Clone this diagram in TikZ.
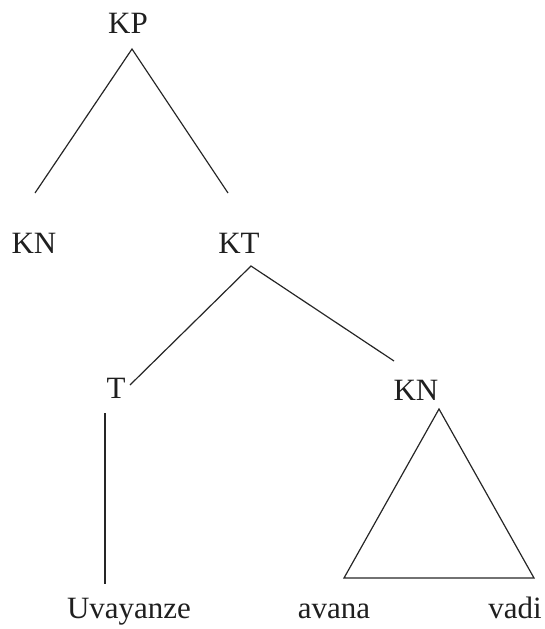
\documentclass[tikz,border=0pt]{standalone}
\usepackage{fontspec}
\setmainfont{Liberation Serif}
\begin{document}
\begin{tikzpicture}[x=1pt,y=-1pt,
  lbl/.style={inner sep=0pt,anchor=base,font=\fontsize{31}{37}\selectfont,text=black!88},
  edge/.style={line width=1.2pt,draw=black!85}]
\useasboundingbox (0,0) rectangle (545,629);
% labels
\node[lbl] (KP) at (128,33) {KP};
\node[lbl] (KNa) at (34,253) {KN};
\node[lbl] (KT) at (239,253) {KT};
\node[lbl] (T) at (116,398) {T};
\node[lbl] (KNb) at (416,400) {KN};
\node[lbl] (w1) at (129,618) {Uvayanze};
\node[lbl] (w2) at (334,618) {avana};
\node[lbl] (w3) at (515,618) {vadi};
% connector end points
\coordinate (kp-b) at (132,49);
\coordinate (kna-t) at (35,193);
\coordinate (kt-t) at (228,193);
\coordinate (kt-b) at (251,266);
\coordinate (t-t) at (130,385);
\coordinate (knb-t) at (394,361);
\coordinate (t-b) at (105,413);
\coordinate (w1-t) at (105,584);
\coordinate (tri-a) at (439,409);
\coordinate (tri-l) at (344,578);
\coordinate (tri-r) at (534,578);
% connectors
\draw[edge] (kna-t) -- (kp-b) -- (kt-t);
\draw[edge] (t-t) -- (kt-b) -- (knb-t);
\draw[edge] (t-b) -- (w1-t);
\draw[edge,line join=miter] (tri-a) -- (tri-l) -- (tri-r) -- cycle;
\end{tikzpicture}
\end{document}
